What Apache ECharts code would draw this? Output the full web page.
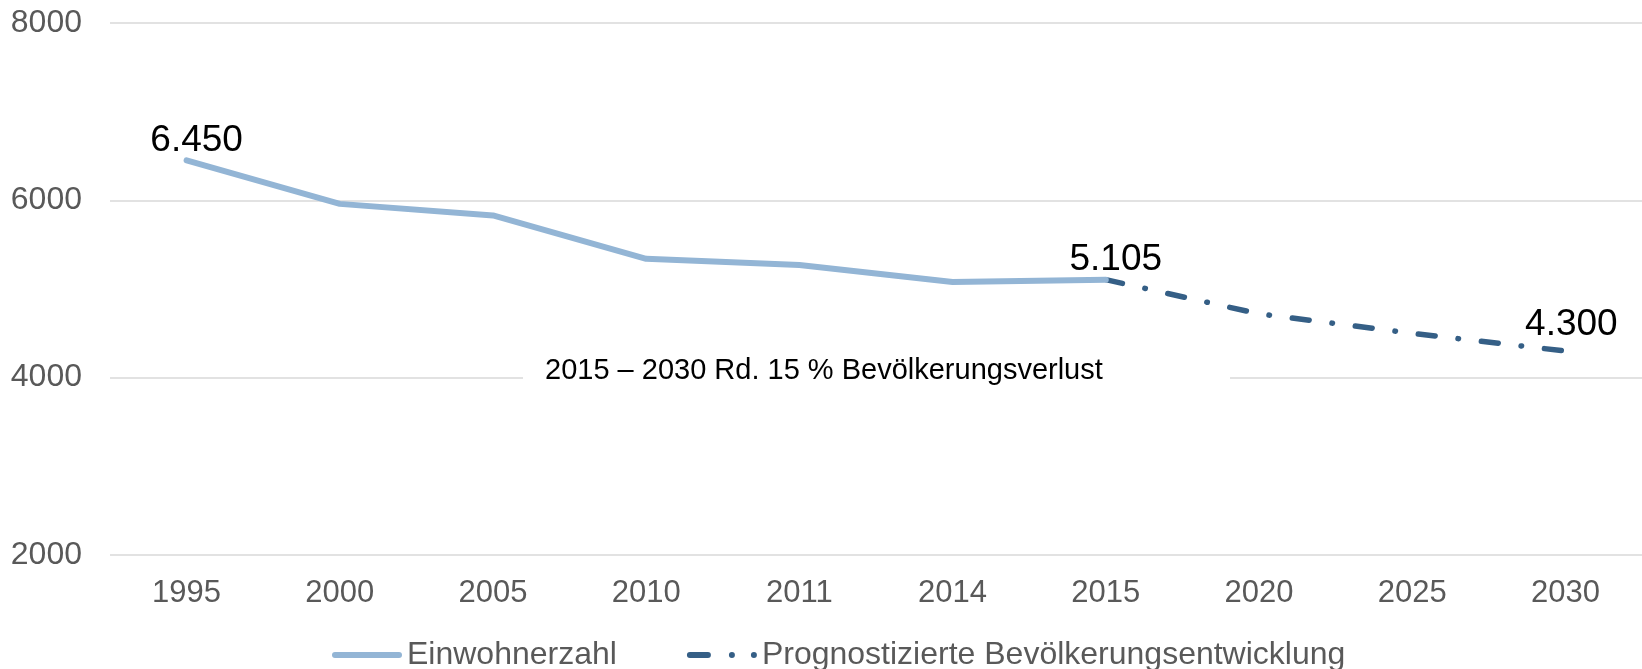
<!DOCTYPE html>
<html><head><meta charset="utf-8">
<script src="https://cdn.jsdelivr.net/npm/echarts@6/dist/echarts.min.js"></script>
<style>html,body{margin:0;padding:0;background:#fff}#c{width:1642px;height:669px}</style>
</head><body><div id="c"></div>
<script>
const categories = ['1995','2000','2005','2010','2011','2014','2015','2020','2025','2030'];
const einwohner = [6450, 5960, 5830, 5340, 5270, 5080, 5105, null, null, null];
const prognose = [null, null, null, null, null, null, 5105, 4720, 4500, 4300];
const labelIndex1 = [0, 6];
const labelIndex2 = [9];
const yTicks = {min: 2000, max: 8000, interval: 2000};
const annotation = '2015 – 2030 Rd. 15 % Bevölkerungsverlust';
const seriesNames = ['Einwohnerzahl', 'Prognostizierte Bevölkerungsentwicklung'];

const fmt = v => String(v).replace(/(\d)(\d{3})$/, '$1.$2');
const font = 'Liberation Sans, Arial, sans-serif';
const c1 = '#93b5d5', c2 = '#355f86';
const chart = echarts.init(document.getElementById('c'));
const mkData = (arr, idx) => arr.map((v, i) => v == null ? null : {
  value: v,
  label: {show: idx.includes(i)}
});
const icon1 = 'path://M3,0 h64 a3,3 0 0 1 0,6 h-64 a3,3 0 0 1 0,-6 z';
const icon2 = 'path://M3,0 h18 a3,3 0 0 1 0,6 h-18 a3,3 0 0 1 0,-6 z M45,0 a3,3 0 1 1 0,6 a3,3 0 1 1 0,-6 z M67,0 a3,3 0 1 1 0,6 a3,3 0 1 1 0,-6 z';
chart.setOption({
  animation: false,
  grid: {left: 110, right: 0, top: 23, bottom: 114},
  textStyle: {fontFamily: font},
  xAxis: {
    type: 'category', data: categories, boundaryGap: true,
    axisLine: {show: false}, axisTick: {show: false},
    axisLabel: {color: '#595959', fontSize: 31, margin: 23, fontFamily: font}
  },
  yAxis: {
    type: 'value', min: yTicks.min, max: yTicks.max, interval: yTicks.interval,
    axisLine: {show: false}, axisTick: {show: false},
    axisLabel: {color: '#595959', fontSize: 32, margin: 28, fontFamily: font, formatter: v => String(v)},
    splitLine: {lineStyle: {color: '#d9d9d9', width: 1.5}}
  },
  legend: {
    top: 634, left: 327, itemWidth: 70, itemHeight: 6, itemGap: 70,
    itemStyle: {opacity: 1},
    textStyle: {color: '#595959', fontSize: 32, fontFamily: font},
    data: [{name: seriesNames[0], icon: icon1}, {name: seriesNames[1], icon: icon2}]
  },
  series: [
    {
      name: seriesNames[0], type: 'line', data: mkData(einwohner, labelIndex1),
      symbol: 'circle', symbolSize: 1, showSymbol: true, connectNulls: false, z: 3,
      lineStyle: {color: c1, width: 6, cap: 'round', join: 'round'},
      itemStyle: {color: c1, opacity: 0},
      label: {position: 'top', distance: 1, color: '#000', fontSize: 37, fontFamily: font,
        formatter: p => fmt(p.value), offset: [10, 0], opacity: 1}
    },
    {
      name: seriesNames[1], type: 'line', data: mkData(prognose, labelIndex2),
      symbol: 'circle', symbolSize: 1, showSymbol: true, z: 2,
      lineStyle: {color: c2, width: 5.5, type: [17, 23, 0.5, 23], cap: 'round'},
      itemStyle: {color: c2, opacity: 0},
      label: {position: 'top', distance: 7, color: '#000', fontSize: 37, fontFamily: font,
        formatter: p => fmt(p.value), offset: [6, 0], opacity: 1}
    }
  ],
  graphic: [
    {type: 'rect', left: 523, top: 360, shape: {width: 707, height: 36}, style: {fill: '#fff'}, z: 1},
    {type: 'text', left: 545, top: 356, style: {text: annotation, fill: '#000', font: '29px ' + font}, z: 2}
  ]
});
</script></body></html>
